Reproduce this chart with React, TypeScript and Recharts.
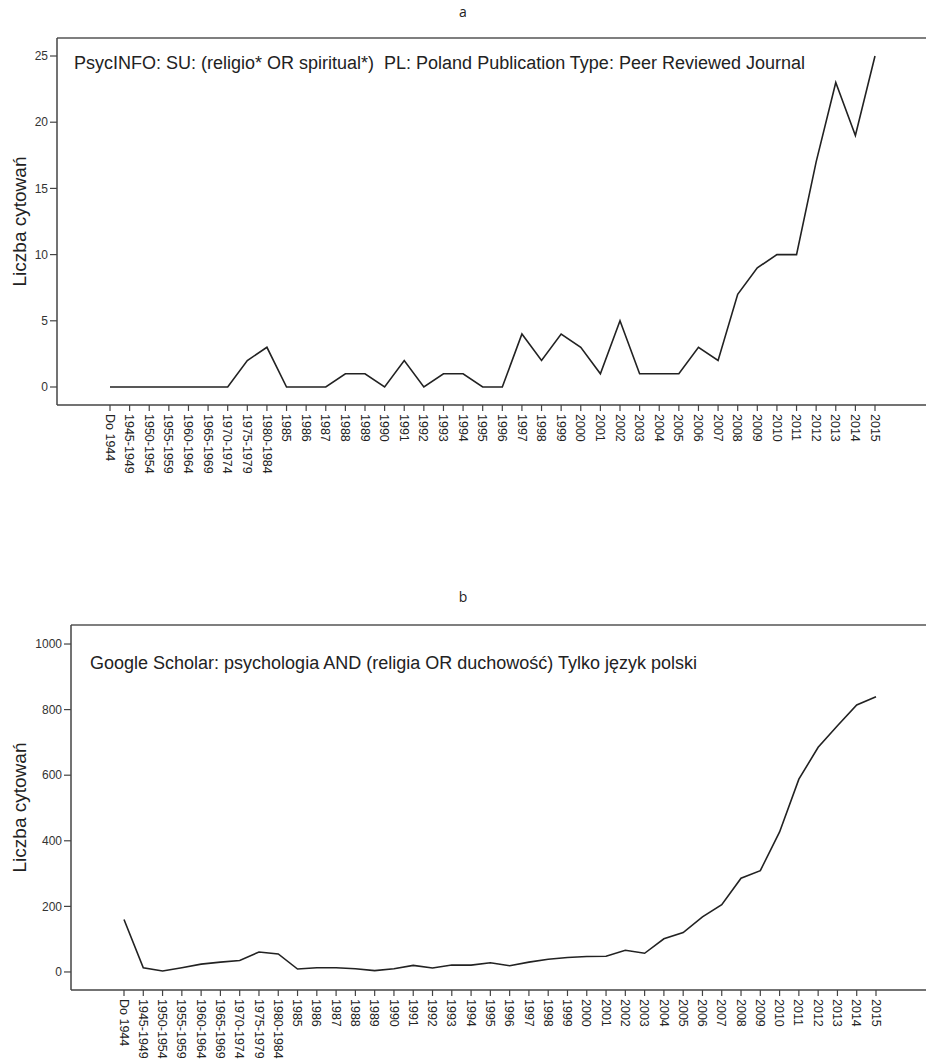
import React from 'react';
import { LineChart, Line, XAxis, YAxis, ReferenceLine } from 'recharts';

const categories = [
  'Do 1944', '1945-1949', '1950-1954', '1955-1959', '1960-1964', '1965-1969', '1970-1974',
  '1975-1979', '1980-1984', '1985', '1986', '1987', '1988', '1989', '1990', '1991', '1992',
  '1993', '1994', '1995', '1996', '1997', '1998', '1999', '2000', '2001', '2002', '2003',
  '2004', '2005', '2006', '2007', '2008', '2009', '2010', '2011', '2012', '2013', '2014', '2015',
];

// a: PsycINFO
const psycInfo = [
  0, 0, 0, 0, 0, 0, 0, 2, 3, 0, 0, 0, 1, 1, 0, 2, 0, 1, 1, 0,
  0, 4, 2, 4, 3, 1, 5, 1, 1, 1, 3, 2, 7, 9, 10, 10, 17, 23, 19, 25,
];

// b: Google Scholar
const scholar = [
  160, 13, 3, 13, 24, 30, 35, 61, 55, 9, 13, 13, 10, 4, 10, 20, 12, 21, 21, 28,
  19, 30, 39, 44, 47, 48, 66, 57, 101, 120, 168, 205, 286, 309, 427, 588, 685, 751, 814, 839,
];

const ticksA = [0, 5, 10, 15, 20, 25];
const ticksB = [0, 200, 400, 600, 800, 1000];

const noteA = 'PsycINFO: SU: (religio* OR spiritual*)  PL: Poland Publication Type: Peer Reviewed Journal';
const noteB = 'Google Scholar: psychologia AND (religia OR duchowość) Tylko język polski';
const yLabel = 'Liczba cytowań';

const dataA = categories.map((c, i) => ({ cat: c, value: psycInfo[i] }));
const dataB = categories.map((c, i) => ({ cat: c, value: scholar[i] }));

const FONT = '"Liberation Sans", Arial, sans-serif';
const AXIS = '#444';

const XTick = (props: any) => {
  const { x, y, payload } = props;
  return (
    <g transform={`translate(${x},${y})`}>
      <text transform="rotate(90)" x={1} y={0} dy="0.35em" textAnchor="start"
        fontSize={12.5} fill="#222" fontFamily={FONT}>
        {payload.value}
      </text>
    </g>
  );
};

const Panel = ({ data, domain, ticks, yWidth, height, marginTop, xHeight, padL, padR }: any) => (
  <LineChart width={926} height={height} data={data}
    margin={{ top: marginTop, right: 0, left: 0, bottom: 0 }}>
    <XAxis dataKey="cat" scale="point" interval={0} height={xHeight}
      padding={{ left: padL, right: padR }} tick={<XTick />}
      tickSize={6} tickMargin={2}
      axisLine={{ stroke: AXIS, strokeWidth: 1.5 }} tickLine={{ stroke: AXIS, strokeWidth: 1.2 }} />
    <YAxis type="number" domain={domain} ticks={ticks} allowDataOverflow width={yWidth}
      tickSize={7} tickMargin={2}
      tick={{ fontSize: 12, fill: '#333', fontFamily: FONT }}
      axisLine={{ stroke: AXIS, strokeWidth: 1.5 }} tickLine={{ stroke: AXIS, strokeWidth: 1.2 }}
      label={{ value: yLabel, angle: -90, position: 'center', dx: 19 - yWidth / 2,
        style: { fontSize: 19, fill: '#222', fontFamily: FONT } }} />
    <ReferenceLine y={domain[1]} stroke="#555" strokeWidth={1.5} ifOverflow="visible" />
    <Line type="linear" dataKey="value" stroke="#222" strokeWidth={1.6} dot={false}
      isAnimationActive={false} />
  </LineChart>
);

const noteStyle: React.CSSProperties = {
  position: 'absolute', fontFamily: FONT, fontSize: 18, lineHeight: '18px',
  color: '#222', whiteSpace: 'pre',
};

const titleStyle: React.CSSProperties = {
  position: 'absolute', left: 0, width: 926, textAlign: 'center',
  fontFamily: '"Open Sans", sans-serif', fontSize: 14, color: '#222',
};

export default function App() {
  return (
    <div style={{ position: 'relative', width: 926, height: 1064, background: '#fff', overflow: 'hidden' }}>
      <style>{'body{margin:0}'}</style>
      <div style={{ ...titleStyle, top: 2 }}>a</div>
      <div style={{ position: 'absolute', top: 0, left: 0 }}>
        <Panel data={dataA} domain={[-1.36, 26.36]} ticks={ticksA} yWidth={57}
          height={500} marginTop={38} xHeight={95} padL={53} padR={51} />
      </div>
      <div style={{ ...noteStyle, top: 54, left: 74 }}>{noteA}</div>

      <div style={{ ...titleStyle, top: 587 }}>b</div>
      <div style={{ position: 'absolute', top: 560, left: 0 }}>
        <Panel data={dataB} domain={[-55, 1058]} ticks={ticksB} yWidth={71}
          height={504} marginTop={65} xHeight={74} padL={53} padR={50} />
      </div>
      <div style={{ ...noteStyle, top: 654, left: 90 }}>{noteB}</div>
    </div>
  );
}
